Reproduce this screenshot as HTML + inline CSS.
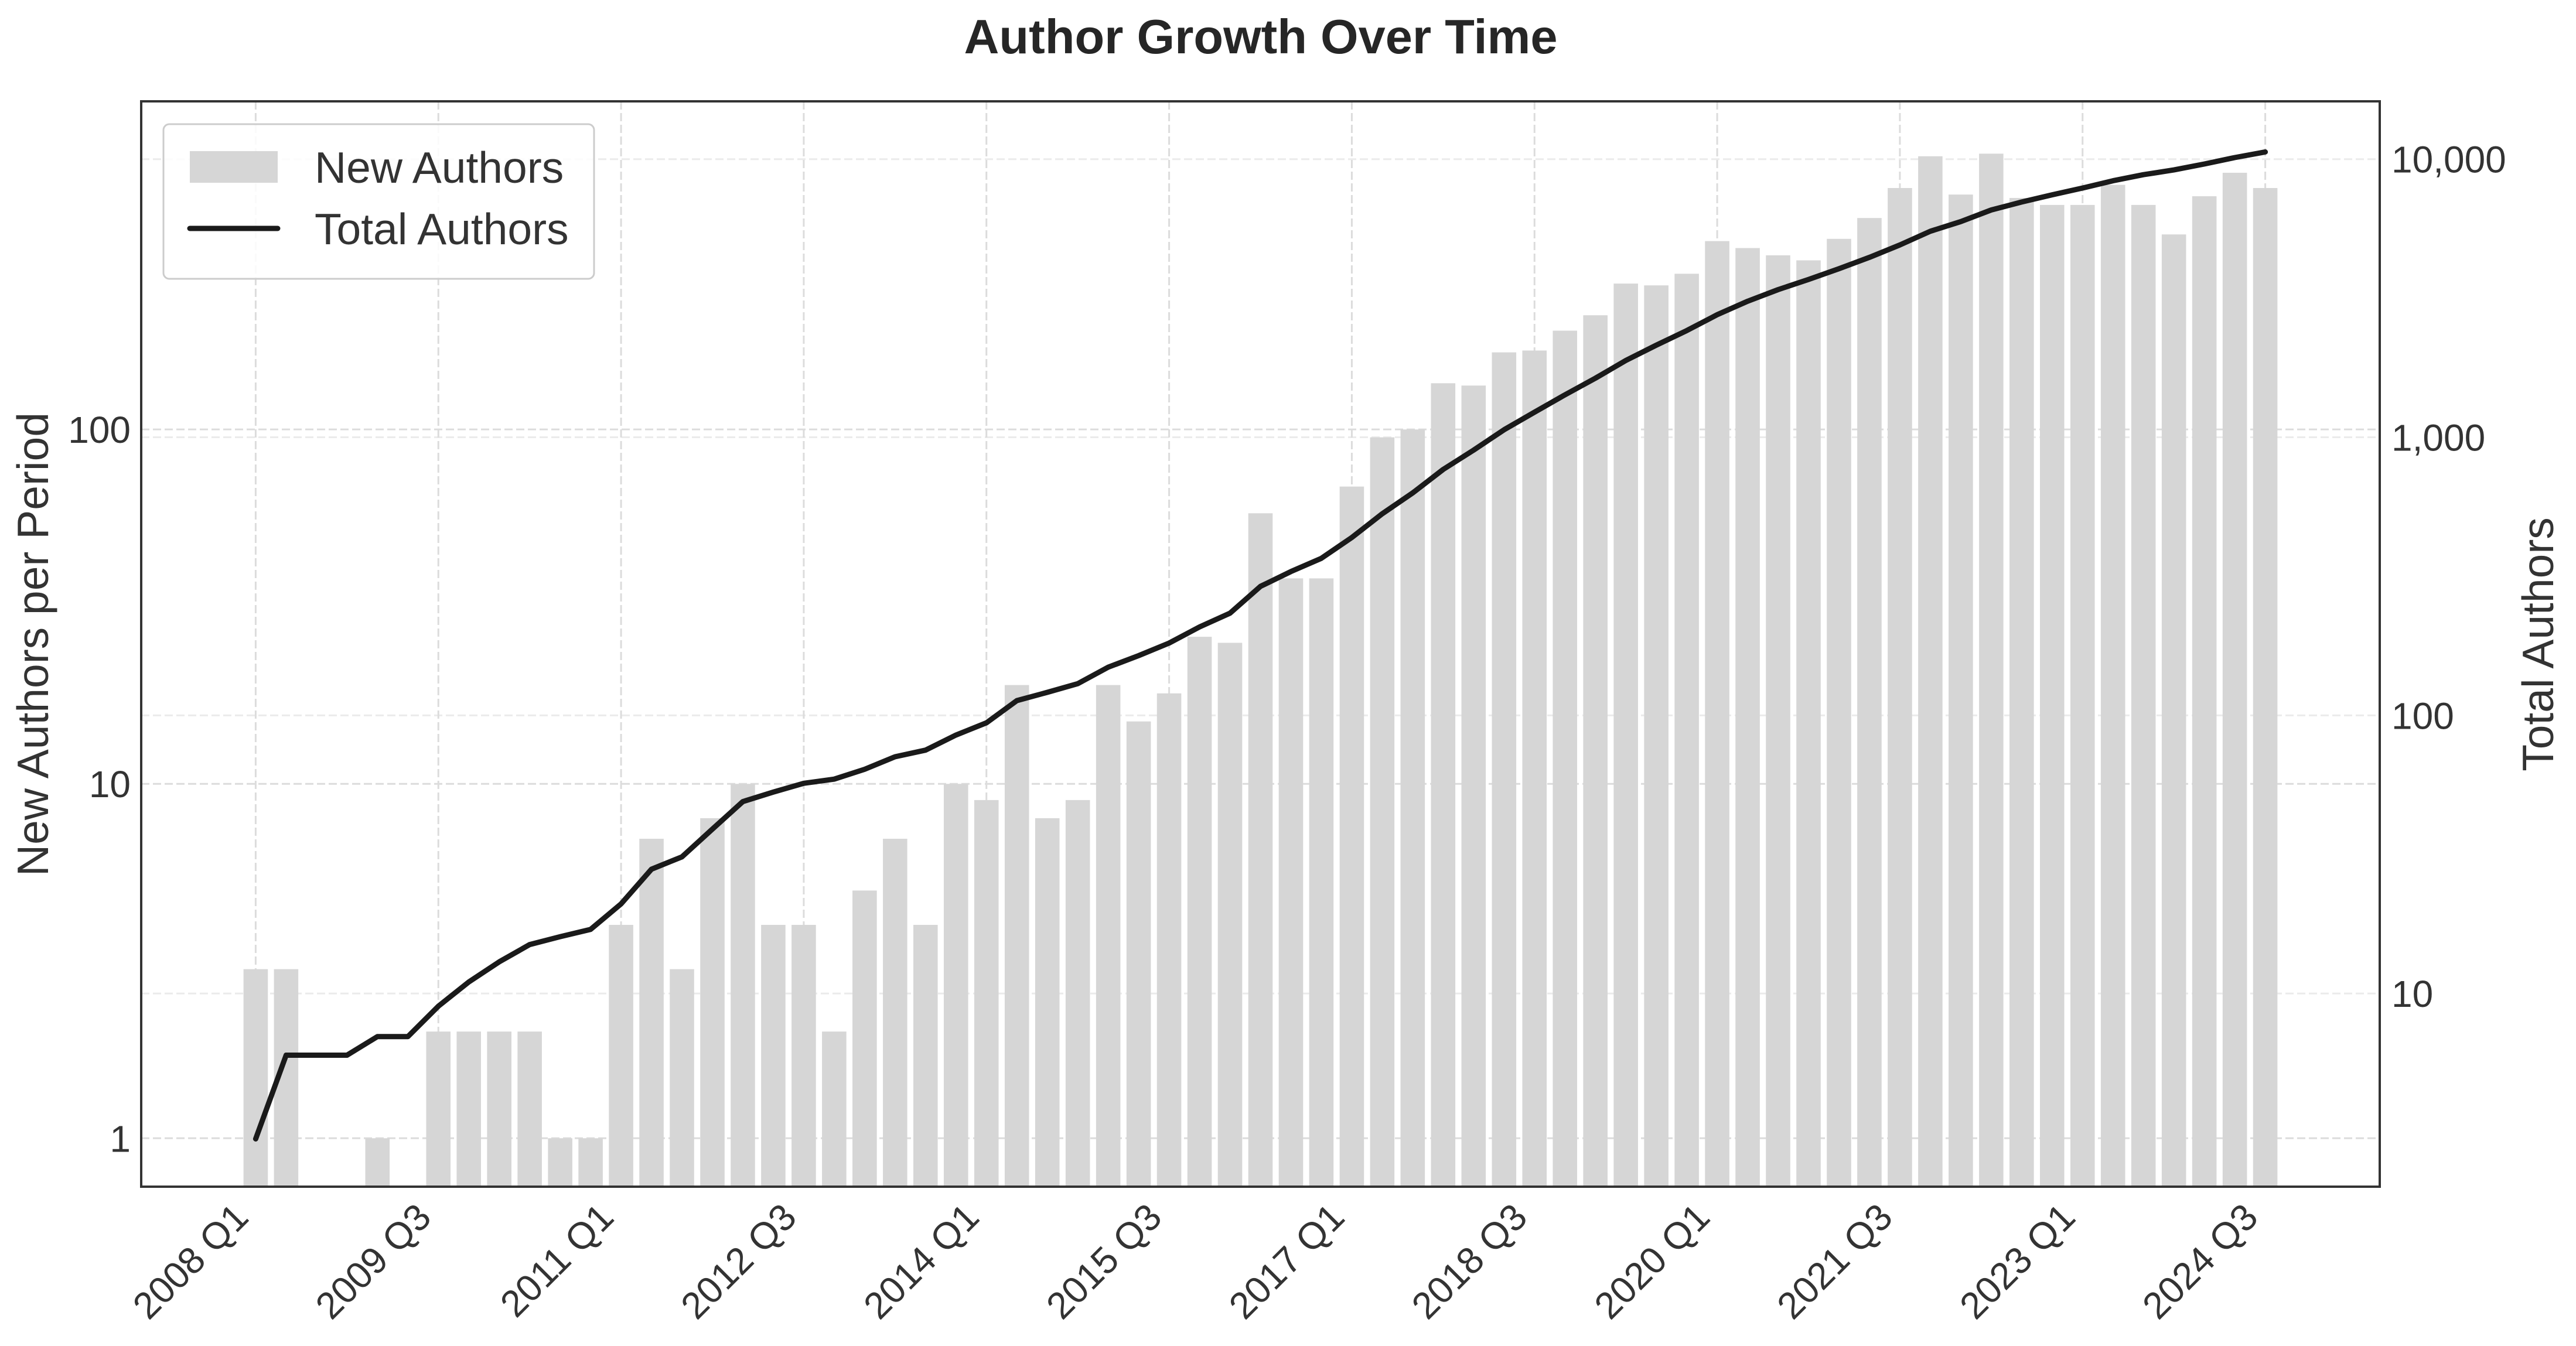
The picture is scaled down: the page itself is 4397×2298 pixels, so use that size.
<!DOCTYPE html>
<html><head><meta charset="utf-8"><title>Author Growth Over Time</title>
<style>html,body{margin:0;padding:0;background:#fff}svg{display:block}text{font-family:"Liberation Sans",Arial,sans-serif;fill:#333}</style>
</head><body>
<svg id="chart" xmlns="http://www.w3.org/2000/svg" width="4397" height="2298" viewBox="0 0 4397 2298">
<rect width="4397" height="2298" fill="#fff"/>
<g id="grid"></g>
<g id="bars"></g>
<g id="line"></g>
<g id="axes"></g>
<text x="2152" y="91" text-anchor="middle" font-size="83" font-weight="bold" style="fill:#262626">Author Growth Over Time</text>
<text transform="translate(82,1100) rotate(-90)" text-anchor="middle" font-size="75">New Authors per Period</text>
<text transform="translate(4358,1100) rotate(-90)" text-anchor="middle" font-size="75">Total Authors</text>
<g>
<rect x="279" y="212" width="735" height="264" rx="10" fill="#fff" fill-opacity="0.85" stroke="#ccc" stroke-width="3"/>
<rect x="324" y="258" width="150" height="54" fill="#d6d6d6"/>
<text x="537" y="312" font-size="75">New Authors</text>
<line x1="324" y1="390" x2="474" y2="390" stroke="#1a1a1a" stroke-width="9" stroke-linecap="round"/>
<text x="537" y="417" font-size="75">Total Authors</text>
</g>
</svg>
<script>
const quarters = ["2008 Q1","2008 Q2","2008 Q3","2008 Q4","2009 Q1","2009 Q2","2009 Q3","2009 Q4","2010 Q1","2010 Q2","2010 Q3","2010 Q4","2011 Q1","2011 Q2","2011 Q3","2011 Q4","2012 Q1","2012 Q2","2012 Q3","2012 Q4","2013 Q1","2013 Q2","2013 Q3","2013 Q4","2014 Q1","2014 Q2","2014 Q3","2014 Q4","2015 Q1","2015 Q2","2015 Q3","2015 Q4","2016 Q1","2016 Q2","2016 Q3","2016 Q4","2017 Q1","2017 Q2","2017 Q3","2017 Q4","2018 Q1","2018 Q2","2018 Q3","2018 Q4","2019 Q1","2019 Q2","2019 Q3","2019 Q4","2020 Q1","2020 Q2","2020 Q3","2020 Q4","2021 Q1","2021 Q2","2021 Q3","2021 Q4","2022 Q1","2022 Q2","2022 Q3","2022 Q4","2023 Q1","2023 Q2","2023 Q3","2023 Q4","2024 Q1","2024 Q2","2024 Q3"];
const newAuthors = [3,3,0,0,1,0,2,2,2,2,1,1,4,7,3,8,10,4,4,2,5,7,4,10,9,19,8,9,19,15,18,26,25,58,38,38,69,95,100,135,133,165,167,190,210,258,255,275,340,325,310,300,345,395,480,590,460,600,450,430,430,490,430,355,455,530,480];
const xTickLabels = ["2008 Q1","2009 Q3","2011 Q1","2012 Q3","2014 Q1","2015 Q3","2017 Q1","2018 Q3","2020 Q1","2021 Q3","2023 Q1","2024 Q3"];
const leftTicks = [1,10,100];
const leftTickLabels = ["1","10","100"];
const rightTicks = [10,100,1000,10000];
const rightTickLabels = ["10","100","1,000","10,000"];

const NS="http://www.w3.org/2000/svg";
const L=241,R=4062,T=173,B=2026;
const xmin=-3.76,xmax=69.76;
const lmin=Math.log10(0.73),lmax=Math.log10(843);
const rmin=Math.log10(2.02),rmax=Math.log10(16140);
const xs=i=>L+(i-xmin)/(xmax-xmin)*(R-L);
const yl=v=>B-(Math.log10(v)-lmin)/(lmax-lmin)*(B-T);
const yr=v=>B-(Math.log10(v)-rmin)/(rmax-rmin)*(B-T);
function mk(tag,attrs,parent){const e=document.createElementNS(NS,tag);for(const k in attrs)e.setAttribute(k,attrs[k]);parent.appendChild(e);return e;}
const grid=document.getElementById('grid'),bars=document.getElementById('bars'),lineG=document.getElementById('line'),axes=document.getElementById('axes');

// right grid
rightTicks.forEach(v=>{const g=mk('line',{x1:L,x2:R,y1:yr(v),y2:yr(v),stroke:'#ebebeb','stroke-width':3,'stroke-dasharray':'14 6'},grid);

});
// left grid
leftTicks.forEach(v=>{const g=mk('line',{x1:L,x2:R,y1:yl(v),y2:yl(v),stroke:'#dcdcdc','stroke-width':3,'stroke-dasharray':'14 6'},grid);

});
// x grid
xTickLabels.forEach(lbl=>{const i=quarters.indexOf(lbl);const g=mk('line',{x1:xs(i),x2:xs(i),y1:T,y2:B,stroke:'#dcdcdc','stroke-width':3,'stroke-dasharray':'14 6'},grid);

});

// bars
const bw=0.8*(xs(1)-xs(0));
newAuthors.forEach((v,i)=>{if(v<=0)return;const y=Math.max(yl(v),T);
const b=mk('rect',{x:xs(i)-bw/2,y:y,width:bw,height:B-y,fill:'#d6d6d6'},bars);

});

// cumulative line
let c=0;const pts=newAuthors.map((v,i)=>{c+=v;return xs(i).toFixed(1)+','+yr(Math.max(c,1)).toFixed(1);});
const pl=mk('polyline',{points:pts.join(' '),fill:'none',stroke:'#1a1a1a','stroke-width':9,'stroke-linejoin':'round','stroke-linecap':'round'},lineG);



// axes frame
const fr=mk('rect',{x:L,y:T,width:R-L,height:B-T,fill:'none',stroke:'#333','stroke-width':4},axes);



leftTicks.forEach((v,k)=>{const t=mk('text',{x:223,y:yl(v)+23,'text-anchor':'end','font-size':64},axes);t.textContent=leftTickLabels[k];

});
rightTicks.forEach((v,k)=>{const t=mk('text',{x:4082,y:yr(v)+23,'font-size':64},axes);t.textContent=rightTickLabels[k];

});
xTickLabels.forEach(lbl=>{const i=quarters.indexOf(lbl);const px=xs(i)-9,py=2082;
const t=mk('text',{x:px,y:py,'text-anchor':'end','font-size':64,transform:'rotate(-45 '+px+' '+py+')'},axes);t.textContent=lbl;

});
</script>
</body></html>
